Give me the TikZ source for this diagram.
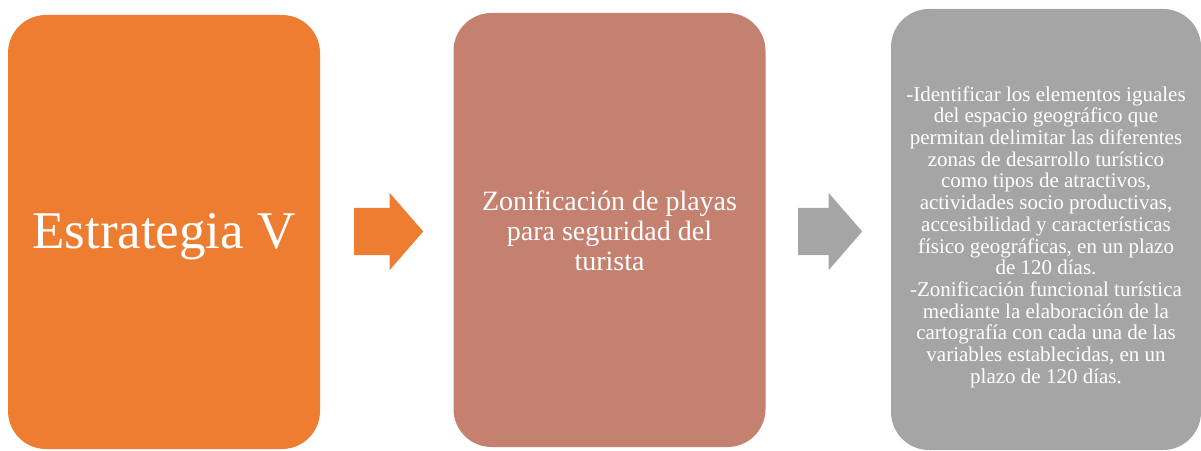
\documentclass[tikz,border=0pt]{standalone}
\usepackage{fontspec}
\setmainfont{Liberation Serif}
\usetikzlibrary{shapes.arrows}
\definecolor{naranja}{HTML}{ED7D31}
\definecolor{rosado}{HTML}{C48170}
\definecolor{gris}{HTML}{A5A5A5}

\begin{document}
\begin{tikzpicture}[x=1pt, y=1pt,
    caja/.style={rounded corners=38pt, minimum width=312pt, minimum height=434pt, inner sep=0pt},
    texto/.style={text=white, align=center, inner sep=0pt},
    flecha/.style={single arrow, single arrow head extend=15pt, single arrow tip angle=98,
        inner xsep=0pt, inner ysep=23.5pt, anchor=tail}]
            \useasboundingbox (0,0) rectangle (1201,450);
            \node[caja, fill=naranja] (1) at (164, 218) {};
            \node[caja, fill=rosado] (2) at (609.5, 220) {};
            \node[caja, fill=gris, minimum width=310pt, minimum height=441pt] (3) at (1046, 220.5) {};
            \node[flecha, fill=naranja, minimum height=69pt] (4) at (354, 218.5) {};
            \node[flecha, fill=gris, minimum height=64pt] (5) at (798, 218.5) {};
            \node[texto, font={\fontsize{53}{60}\selectfont}] (6) at ([yshift=-5pt]1.center) {Estrategia V};
            \node[texto, font={\fontsize{28}{30}\selectfont}] (7) at ([yshift=-0.5pt]2.center)
                {Zonificación de playas\\para seguridad del\\turista};
            \node[texto, font={\fontsize{21}{21.7}\selectfont}] (8) at ([yshift=-7.5pt]3.center)
                {-Identificar los elementos iguales\\del espacio geográfico que\\permitan delimitar las diferentes\\zonas de desarrollo turístico\\como tipos de atractivos,\\actividades socio productivas,\\accesibilidad y características\\físico geográficas, en un plazo\\de 120 días.\\-Zonificación funcional turística\\mediante la elaboración de la\\cartografía con cada una de las\\variables establecidas, en un\\plazo de 120 días.};
        \end{tikzpicture}
\end{document}
